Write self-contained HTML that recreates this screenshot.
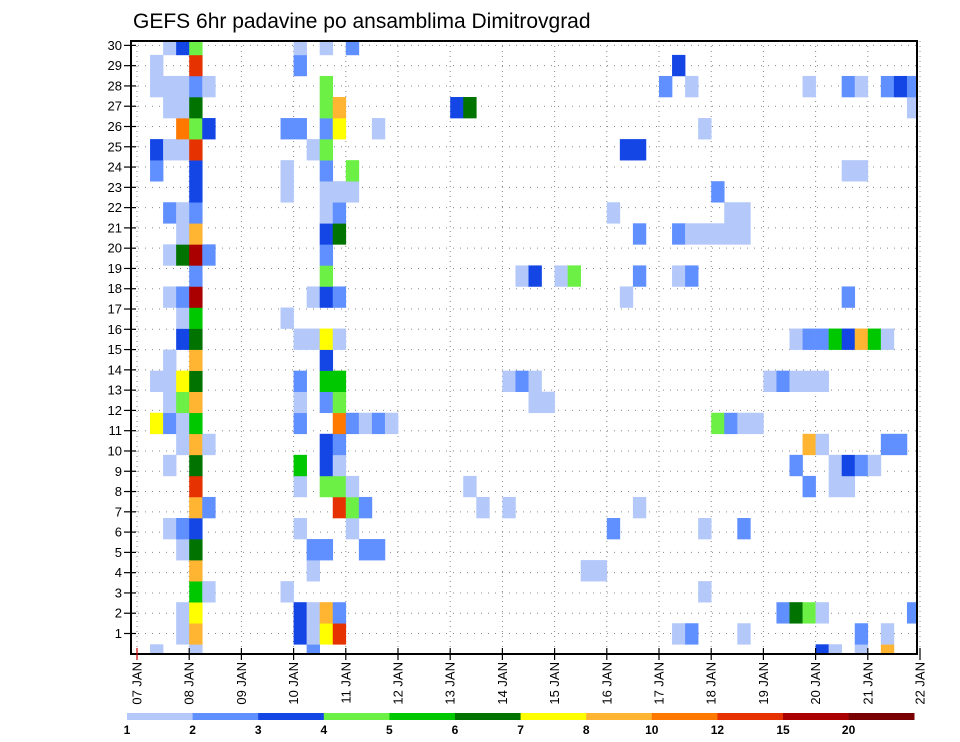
<!DOCTYPE html>
<html><head><meta charset="utf-8"><style>
html,body{margin:0;padding:0;background:#fff;}
svg{display:block;font-family:"Liberation Sans",sans-serif;}
</style></head><body>
<svg id="chart" width="960" height="742" viewBox="0 0 960 742" xmlns="http://www.w3.org/2000/svg">
<defs><clipPath id="plotclip"><rect x="131" y="41" width="786" height="613"/></clipPath></defs>
<text x="133" y="28" font-size="21" fill="#000">GEFS 6hr padavine po ansamblima Dimitrovgrad</text>
<g id="grid"></g>
<g id="cells" clip-path="url(#plotclip)"></g>
<rect x="131" y="41" width="786" height="613" fill="none" stroke="#000" stroke-width="2"/>
<g id="yaxis"></g>
<g id="xaxis"></g>
<g id="legend"></g>
</svg>
<script>
// Day labels
const dayLabels = ["07 JAN","08 JAN","09 JAN","10 JAN","11 JAN","12 JAN","13 JAN","14 JAN","15 JAN","16 JAN","17 JAN","18 JAN","19 JAN","20 JAN","21 JAN","22 JAN"];
// Member tick labels
const memberLabels = [1,2,3,4,5,6,7,8,9,10,11,12,13,14,15,16,17,18,19,20,21,22,23,24,25,26,27,28,29,30];
// Legend levels and colours
const levels = [1,2,3,4,5,6,7,8,10,12,15,20];
const levelColors = ["#b4c8fa","#6090ff","#1446e6","#6cf046","#00c800","#007300","#ffff00","#ffb432","#ff7800","#e63200","#aa0000","#780000"];
// Precipitation (mm) per ensemble member: "timestep:value"
const member29 = "2:1.5 3:3.5 4:4.5 12:1.5 14:1.5 16:2.5";
const member28 = "1:1.5 4:13 12:2.5 41:3.5";
const member27 = "1:1.5 2:1.5 3:1.5 4:2.5 5:1.5 14:4.5 40:2.5 42:1.5 51:1.5 54:2.5 55:1.5 57:2.5 58:3.5 59:2.5";
const member26 = "2:1.5 3:1.5 4:6.5 14:4.5 15:9 24:3.5 25:6.5 59:1.5";
const member25 = "3:11 4:4.5 5:3.5 11:2.5 12:2.5 14:2.5 15:7.5 18:1.5 43:1.5";
const member24 = "1:3.5 2:1.5 3:1.5 4:13 13:1.5 14:4.5 37:3.5 38:3.5";
const member23 = "1:2.5 4:3.5 11:1.5 14:2.5 16:4.5 54:1.5 55:1.5";
const member22 = "4:3.5 11:1.5 14:1.5 15:1.5 16:1.5 44:2.5";
const member21 = "2:2.5 3:1.5 4:2.5 14:1.5 15:2.5 36:1.5 45:1.5 46:1.5";
const member20 = "3:1.5 4:9 14:3.5 15:6.5 38:2.5 41:2.5 42:1.5 43:1.5 44:1.5 45:1.5 46:1.5";
const member19 = "2:1.5 3:6.5 4:17 5:2.5 14:2.5";
const member18 = "4:2.5 14:4.5 29:1.5 30:3.5 32:1.5 33:4.5 38:2.5 41:1.5 42:2.5";
const member17 = "2:1.5 3:2.5 4:17 13:1.5 14:3.5 15:2.5 37:1.5 54:2.5";
const member16 = "3:1.5 4:5.5 11:1.5";
const member15 = "3:3.5 4:6.5 12:1.5 13:1.5 14:7.5 15:1.5 50:1.5 51:2.5 52:2.5 53:5.5 54:3.5 55:9 56:5.5 57:1.5";
const member14 = "2:1.5 4:9 14:3.5";
const member13 = "1:1.5 2:1.5 3:7.5 4:6.5 12:2.5 14:5.5 15:5.5 28:1.5 29:2.5 30:1.5 48:1.5 49:2.5 50:1.5 51:1.5 52:1.5";
const member12 = "2:1.5 3:4.5 4:9 12:1.5 14:2.5 15:4.5 30:1.5 31:1.5";
const member11 = "1:7.5 2:2.5 3:1.5 4:5.5 12:2.5 15:11 16:2.5 17:1.5 18:2.5 19:1.5 44:4.5 45:2.5 46:1.5 47:1.5";
const member10 = "3:1.5 4:9 5:1.5 14:3.5 15:2.5 51:9 52:1.5 57:2.5 58:2.5";
const member9 = "2:1.5 4:6.5 12:5.5 14:3.5 15:1.5 50:2.5 53:1.5 54:3.5 55:2.5 56:1.5";
const member8 = "4:13 12:1.5 14:4.5 15:4.5 16:1.5 25:1.5 51:2.5 53:1.5 54:1.5";
const member7 = "4:9 5:2.5 15:13 16:4.5 17:2.5 26:1.5 28:1.5 38:1.5";
const member6 = "2:1.5 3:2.5 4:3.5 12:1.5 16:1.5 36:2.5 43:1.5 46:2.5";
const member5 = "3:1.5 4:6.5 13:2.5 14:2.5 17:2.5 18:2.5";
const member4 = "4:9 13:1.5 34:1.5 35:1.5";
const member3 = "4:5.5 5:1.5 11:1.5 43:1.5";
const member2 = "3:1.5 4:7.5 12:3.5 13:1.5 14:9 15:2.5 49:2.5 50:6.5 51:4.5 52:1.5 59:2.5";
const member1 = "3:1.5 4:9 12:3.5 13:1.5 14:7.5 15:13 41:1.5 42:2.5 46:1.5 55:2.5 57:1.5";
const member0 = "1:1.5 4:1.5 13:2.5 52:3.5 53:1.5 55:1.5 57:9";
const members = [member0,member1,member2,member3,member4,member5,member6,member7,member8,member9,member10,member11,member12,member13,member14,member15,member16,member17,member18,member19,member20,member21,member22,member23,member24,member25,member26,member27,member28,member29];

const NS="http://www.w3.org/2000/svg";
const X0=137, DAY=52.2, STEP=DAY/4, CELLH=21.05, ROWBASE=644.3;
function xStep(k){return X0+k*STEP;}
function xDay(d){return X0+d*DAY;}
function yCellTop(j){return ROWBASE-j*CELLH;}
function yLabel(n){return 633.5-(n-1)*20.28;}
function colorFor(v){let i=0;for(let l=0;l<levels.length;l++){if(v>=levels[l])i=l;}return levelColors[i];}
function mk(tag,attrs,parent){const e=document.createElementNS(NS,tag);for(const a in attrs)e.setAttribute(a,attrs[a]);parent.appendChild(e);return e;}

const grid=document.getElementById('grid');
for(let d=0;d<dayLabels.length;d++){
  const l=mk('line',{x1:xDay(d),x2:xDay(d),y1:41,y2:654,stroke:'#888','stroke-width':1,'stroke-dasharray':'1 4'},grid);
  
  
}
for(let i=0;i<memberLabels.length;i++){
  const y=yLabel(memberLabels[i]);
  const l=mk('line',{x1:131,x2:917,y1:y,y2:y,stroke:'#888','stroke-width':1,'stroke-dasharray':'1 6'},grid);
  
  
}

const cells=document.getElementById('cells');
for(let j=0;j<members.length;j++){
  members[j].trim().split(/\s+/).forEach(p=>{
    const [k,v]=p.split(':').map(Number);
    const r=mk('rect',{x:xStep(k),y:yCellTop(j),width:STEP+0.3,height:CELLH+0.3,fill:colorFor(v)},cells);
    
    
  });
}

const yaxis=document.getElementById('yaxis');
memberLabels.forEach(n=>{
  const y=yLabel(n);
  const t=mk('line',{x1:124,x2:136,y1:y,y2:y,stroke:'#000','stroke-width':1.2},yaxis);
  
  
  const tx=mk('text',{x:122,y:y+4.5,'font-size':13,'text-anchor':'end',fill:'#000'},yaxis);
  tx.textContent=n;
  
  
});

const xaxis=document.getElementById('xaxis');
dayLabels.forEach((lab,d)=>{
  const x=xDay(d);
  const t=mk('line',{x1:x,x2:x,y1:648,y2:660,stroke:d===0?'#c00':'#000','stroke-width':1.2},xaxis);
  
  
  const tx=mk('text',{x:0,y:0,'font-size':13,'text-anchor':'end',fill:'#000',transform:'translate('+(x+4.5)+',662) rotate(-90)'},xaxis);
  tx.textContent=lab;
  
  
});

const legend=document.getElementById('legend');
const LX=127, LW=65.6;
levels.forEach((lv,i)=>{
  const r=mk('rect',{x:LX+i*LW,y:713,width:LW+0.3,height:7,fill:levelColors[i]},legend);
  
  
  const tx=mk('text',{x:LX+i*LW,y:734,'font-size':12,'font-weight':'bold','text-anchor':'middle',fill:'#000'},legend);
  tx.textContent=lv;
  
  
});
</script>
</body></html>
